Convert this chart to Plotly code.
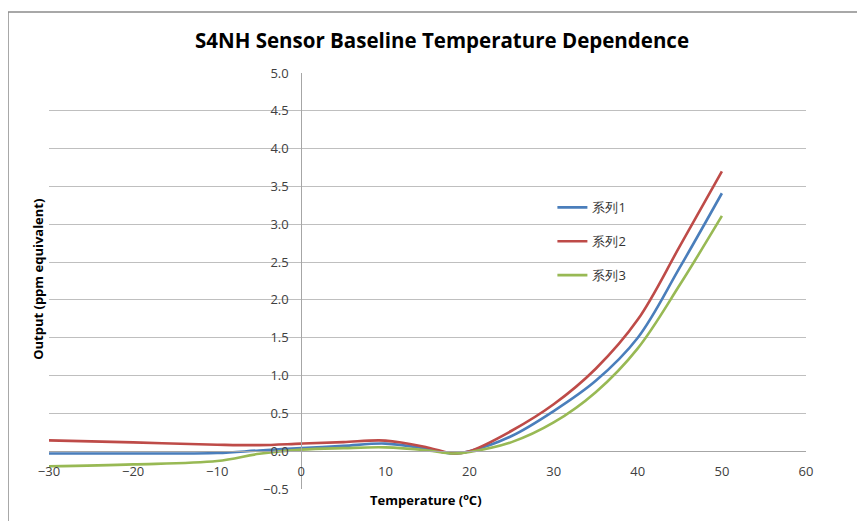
import plotly.graph_objects as go

temps = [-30, -20, -10, -5, 0, 5, 10, 15, 18, 20, 25, 30, 35, 40, 45, 50]
series1 = [-0.03, -0.03, -0.025, 0.01, 0.04, 0.07, 0.10, 0.03, -0.03, 0.0, 0.20, 0.53, 0.93, 1.50, 2.43, 3.41]
series2 = [0.143, 0.116, 0.086, 0.08, 0.10, 0.12, 0.14, 0.05, -0.03, 0.0, 0.27, 0.62, 1.09, 1.74, 2.71, 3.70]
series3 = [-0.20, -0.175, -0.13, -0.035, 0.02, 0.04, 0.05, 0.01, -0.03, -0.01, 0.12, 0.38, 0.78, 1.36, 2.20, 3.11]
names = ["系列1", "系列2", "系列3"]
colors = ["#4A7EBB", "#BE4B48", "#98B954"]

title_text = "S4NH Sensor Baseline Temperature Dependence"
x_title = "Temperature (<sup>o</sup>C)"
y_title = "Output (ppm equivalent)"

fig = go.Figure()
for i, (ys, nm, c) in enumerate(zip([series1, series2, series3], names, colors)):
    fig.add_trace(go.Scatter(
        x=temps, y=ys, name=nm, mode="lines",
        line=dict(color=c, width=2.6, shape="spline", smoothing=1.0),
        legendgroup=f"g{i}",
    ))

font_family = "Open Sans, Liberation Sans, sans-serif"

# page body has an 8px offset, so margins compensate
fig.update_layout(
    width=865, height=521,
    margin=dict(l=41, r=67, t=65, b=40),
    paper_bgcolor="white", plot_bgcolor="white",
    font=dict(family=font_family, size=13, color="#404040"),
    showlegend=True,
    legend=dict(
        x=0.665, y=0.713, xanchor="left", yanchor="top",
        bgcolor="rgba(0,0,0,0)", tracegroupgap=14,
        font=dict(size=13, color="#333333"),
        itemwidth=30,
    ),
    xaxis=dict(
        range=[-30, 60], dtick=10, tick0=-30,
        showgrid=False, zeroline=False,
        showline=True, linecolor="#a6a6a6", linewidth=1,
        anchor="free", position=0.5 / 5.5,
        ticks="", ticklabelstandoff=8,
        tickfont=dict(size=13, color="#404040"),
    ),
    yaxis=dict(
        range=[-0.5, 5.0], dtick=0.5, tick0=-0.5, tickformat=".1f",
        showgrid=True, gridcolor="#bfbfbf", gridwidth=1,
        zeroline=False,
        showline=True, linecolor="#a6a6a6", linewidth=1,
        anchor="free", position=30 / 90,
        ticks="", ticklabelstandoff=10,
        tickfont=dict(size=13, color="#404040"),
    ),
    annotations=[
        dict(text=f"<b>{title_text}</b>", xref="paper", yref="paper",
             x=(442 - 49) / 757, y=(489.3 - 40) / 416.3,
             xanchor="center", yanchor="middle", showarrow=False,
             font=dict(size=20.5, color="#000000", family=font_family)),
        dict(text=f"<b>{x_title}</b>", xref="paper", yref="paper",
             x=(426 - 49) / 757, y=(489.3 - 500) / 416.3,
             xanchor="center", yanchor="middle", showarrow=False,
             font=dict(size=13, color="#000000", family=font_family)),
        dict(text=f"<b>{y_title}</b>", xref="paper", yref="paper",
             x=(38 - 49) / 757, y=(489.3 - 280) / 416.3,
             xanchor="center", yanchor="middle", showarrow=False, textangle=-90,
             font=dict(size=13, color="#000000", family=font_family)),
    ],
    shapes=[
        dict(type="rect", xref="paper", yref="paper",
             x0=(8 - 49) / 757, x1=2.0,
             y0=-1.0, y1=(489.3 - 12) / 416.3,
             line=dict(color="#8c8c8c", width=1.5), fillcolor="rgba(0,0,0,0)",
             layer="below"),
    ],
)

fig.write_html("out.html")
